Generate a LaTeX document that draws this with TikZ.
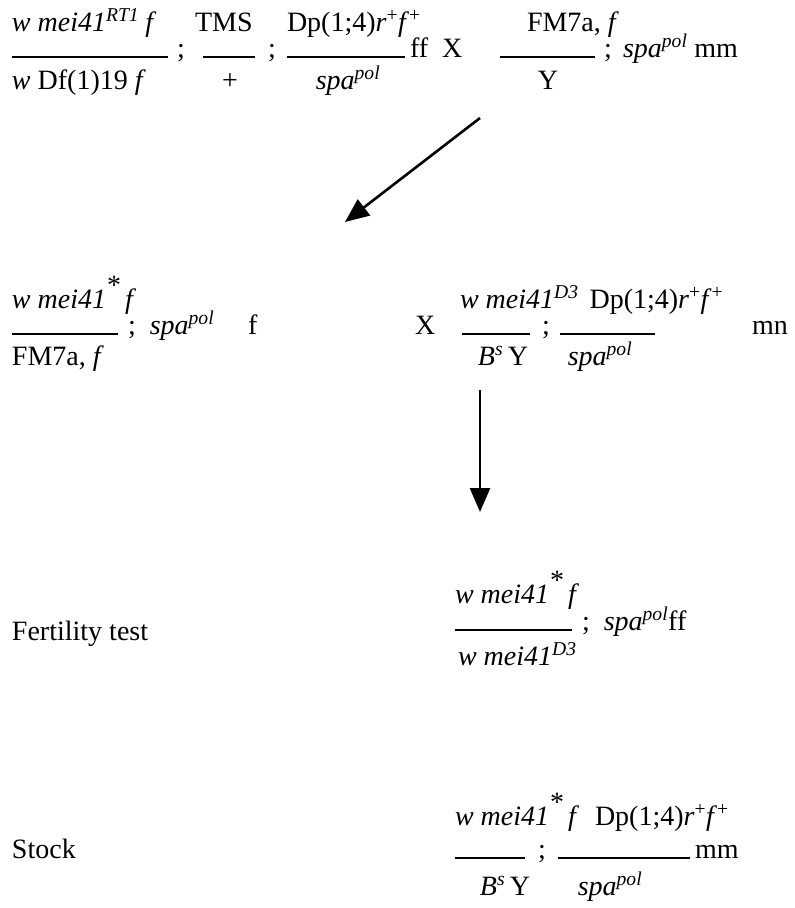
\documentclass[tikz,border=0pt]{standalone}
\usepackage{fontspec}
\setmainfont{Liberation Serif}
\usetikzlibrary{arrows.meta}
\newcommand{\sps}[1]{\textsuperscript{\textit{#1}}}
\newcommand{\spu}[1]{\textsuperscript{#1}}
\newcommand{\astr}{\hspace{1pt}\raisebox{0.5em}{*}\hspace{4pt}}
\begin{document}
\begin{tikzpicture}[x=1pt,y=-1pt,
  every node/.style={inner sep=0pt, outer sep=0pt, font=\fontsize{28}{32}\selectfont},
  txt/.style={anchor=base west},
  ctr/.style={anchor=base},
  rulel/.style={line width=1.4pt},
  arr/.style={line width=2.6pt, -{Triangle[length=24pt,width=20pt]}}]
\useasboundingbox (0,0) rectangle (795,908);
% ---------- row 1 ----------
\node[txt] (r1a) at (12,31) {\textit{w mei41}\sps{RT1}\hspace{6pt}\textit{f}};
\node[txt] (r1b) at (195,31) {TMS};
\node[txt] (r1c) at (287,31) {Dp(1;4)\textit{r}\spu{+}\textit{f}\spu{+}};
\node[txt] (r1d) at (527,31) {FM7a, \textit{f}};
\draw[rulel] (12,57) -- (168,57);
\node[txt] (r1s1) at (177,57) {;};
\draw[rulel] (203,57) -- (255,57);
\node[txt] (r1s2) at (268,57) {;};
\draw[rulel] (287,57) -- (405,57);
\node[txt] (r1ff) at (410,57) {ff\ \ X};
\draw[rulel] (500,57) -- (595,57);
\node[txt] (r1s3) at (604,57) {;};
\node[txt] (r1sp) at (623,57) {\textit{spa}\sps{pol} mm};
\node[txt] (r1e) at (12,89) {\textit{w} Df(1)19 \textit{f}};
\node[ctr] (r1f) at (230,89) {+};
\node[ctr] (r1g) at (348,89) {\textit{spa}\sps{pol}};
\node[ctr] (r1h) at (548,89) {Y};
% arrow 1
\coordinate (a1s) at (480,118);
\coordinate (a1e) at (345,222);
\draw[arr] (a1s) -- (a1e);
% ---------- row 2 ----------
\node[txt] (r2a) at (12,308) {\textit{w mei41}\astr\textit{f}};
\draw[rulel] (12,334) -- (118,334);
\node[txt] (r2b) at (128,334) {;\ \ \textit{spa}\sps{pol}};
\node[txt] (r2c) at (248,334) {f};
\node[txt] (r2d) at (12,365) {FM7a, \textit{f}};
\node[txt] (r2e) at (460,308) {\textit{w mei41}\sps{D3}\hspace{11pt}Dp(1;4)\textit{r}\spu{+}\textit{f}\spu{+}};
\node[txt] (r2f) at (415,334) {X};
\draw[rulel] (462,334) -- (530,334);
\node[txt] (r2s) at (542,334) {;};
\draw[rulel] (560,334) -- (655,334);
\node[txt] (r2m) at (752,334) {mn};
\node[ctr] (r2g) at (503,365) {\textit{B}\sps{s}\,Y};
\node[ctr] (r2h) at (600,365) {\textit{spa}\sps{pol}};
% arrow 2
\coordinate (a2s) at (480,390);
\coordinate (a2e) at (480,512);
\draw[arr] (a2s) -- (a2e);
% ---------- row 3 ----------
\node[txt] (r3a) at (12,640) {Fertility test};
\node[txt] (r3b) at (455,603) {\textit{w mei41}\astr\textit{f}};
\draw[rulel] (455,630) -- (572,630);
\node[txt] (r3c) at (582,630) {;\ \ \textit{spa}\sps{pol}ff};
\node[txt] (r3d) at (458,665) {\textit{w mei41}\sps{D3}};
% ---------- row 4 ----------
\node[txt] (r4a) at (12,858) {Stock};
\node[txt] (r4b) at (455,825) {\textit{w mei41}\astr\textit{f}};
\node[txt] (r4c) at (595,825) {Dp(1;4)\textit{r}\spu{+}\textit{f}\spu{+}};
\draw[rulel] (455,858) -- (525,858);
\node[txt] (r4s) at (538,858) {;};
\draw[rulel] (558,858) -- (690,858);
\node[txt] (r4m) at (695,858) {mm};
\node[ctr] (r4d) at (505,895) {\textit{B}\sps{s}\,Y};
\node[ctr] (r4e) at (610,895) {\textit{spa}\sps{pol}};
\end{tikzpicture}
\end{document}
